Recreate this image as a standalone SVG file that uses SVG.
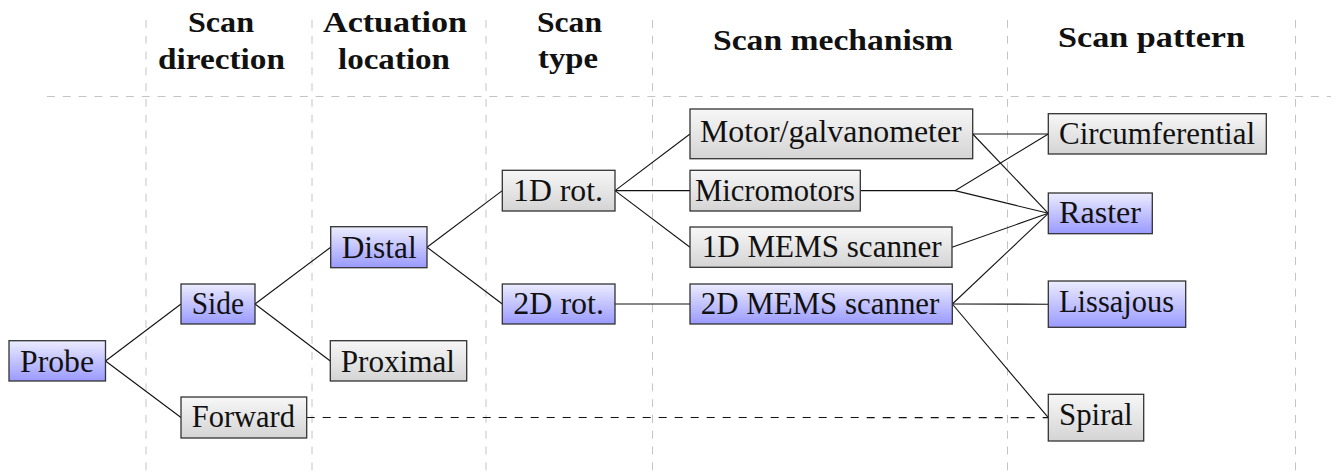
<svg xmlns="http://www.w3.org/2000/svg" width="1337" height="472" viewBox="0 0 1337 472">
  <defs>
    <linearGradient id="gBlue" x1="0" y1="0" x2="0" y2="1">
      <stop offset="0" stop-color="#ececff"/>
      <stop offset="1" stop-color="#9a9aff"/>
    </linearGradient>
    <linearGradient id="gGray" x1="0" y1="0" x2="0" y2="1">
      <stop offset="0" stop-color="#f7f7f7"/>
      <stop offset="1" stop-color="#d4d4d4"/>
    </linearGradient>
    <style>
      .grid { stroke: #c4c4c4; stroke-width: 1; stroke-dasharray: 7.9 7.9; fill: none; }
      .hdr { font-family: "Liberation Serif", "Times New Roman", serif; font-weight: bold; font-size: 30px; fill: #111; }
      .lbl { font-family: "Liberation Serif", "Times New Roman", serif; font-size: 31px; fill: #111; }
      .blue rect { fill: url(#gBlue); stroke: #333; stroke-width: 1.3; }
      .gray rect { fill: url(#gGray); stroke: #333; stroke-width: 1.3; }
      .edge { stroke: #111; stroke-width: 1.1; fill: none; }
      .dash { stroke-dasharray: 8 8; }
    </style>
  </defs>

  <!-- column grid -->
  <g id="grid">
    <line class="grid" x1="146" y1="20" x2="146" y2="472"/>
    <line class="grid" x1="312" y1="20" x2="312" y2="472"/>
    <line class="grid" x1="486" y1="20" x2="486" y2="472"/>
    <line class="grid" x1="652.5" y1="20" x2="652.5" y2="472"/>
    <line class="grid" x1="1007.5" y1="20" x2="1007.5" y2="472"/>
    <line class="grid" x1="1295.5" y1="20" x2="1295.5" y2="472"/>
    <line class="grid" x1="47" y1="96.5" x2="1331" y2="96.5"/>
  </g>

  <!-- column headings -->
  <g id="headers">
    <text class="hdr" x="188" y="31.7" textLength="66" lengthAdjust="spacingAndGlyphs">Scan</text>
    <text class="hdr" x="158" y="69" textLength="127" lengthAdjust="spacingAndGlyphs">direction</text>
    <text class="hdr" x="323" y="31.7" textLength="144" lengthAdjust="spacingAndGlyphs">Actuation</text>
    <text class="hdr" x="338" y="69" textLength="112" lengthAdjust="spacingAndGlyphs">location</text>
    <text class="hdr" x="537" y="31.7" textLength="65" lengthAdjust="spacingAndGlyphs">Scan</text>
    <text class="hdr" x="538" y="68" textLength="60" lengthAdjust="spacingAndGlyphs">type</text>
    <text class="hdr" x="713" y="50" textLength="240" lengthAdjust="spacingAndGlyphs">Scan mechanism</text>
    <text class="hdr" x="1058" y="47" textLength="187" lengthAdjust="spacingAndGlyphs">Scan pattern</text>
  </g>

  <!-- connectors -->
  <g id="connectors">
    <line class="edge" x1="105.5" y1="361" x2="181" y2="304"/>
    <line class="edge" x1="105.5" y1="361" x2="181" y2="417.5"/>
    <line class="edge" x1="255" y1="304" x2="330.7" y2="247.2"/>
    <line class="edge" x1="255" y1="304" x2="330.3" y2="361"/>
    <line class="edge" x1="427" y1="247.2" x2="502.3" y2="190.6"/>
    <line class="edge" x1="427" y1="247.2" x2="502.3" y2="304"/>
    <line class="edge" x1="615" y1="190.6" x2="690" y2="134"/>
    <line class="edge" x1="615" y1="190.6" x2="690" y2="190.6"/>
    <line class="edge" x1="615" y1="190.6" x2="690" y2="247.2"/>
    <line class="edge" x1="615" y1="304" x2="690" y2="304"/>
    <line class="edge" x1="972.7" y1="134" x2="1048.3" y2="134"/>
    <line class="edge" x1="972.7" y1="134" x2="1048.3" y2="213.3"/>
    <polyline class="edge" points="860.3,190.6 955,190.6 1048.3,134"/>
    <line class="edge" x1="955" y1="190.6" x2="1048.3" y2="213.3"/>
    <line class="edge" x1="952" y1="247.2" x2="1048.3" y2="213.3"/>
    <line class="edge" x1="952.3" y1="304" x2="1048.3" y2="213.3"/>
    <line class="edge" x1="952.3" y1="304" x2="1048.3" y2="304.2"/>
    <line class="edge" x1="952.3" y1="304" x2="1048.3" y2="417.7"/>
    <line class="edge dash" x1="306.7" y1="417.5" x2="1048.3" y2="417.6"/>
  </g>

  <!-- nodes -->
  <g id="probe" class="blue">
    <rect x="9" y="340.7" width="96.5" height="40.3"/>
    <text class="lbl" x="20" y="371.5" textLength="74" lengthAdjust="spacingAndGlyphs">Probe</text>
  </g>
  <g id="side" class="blue">
    <rect x="181" y="284" width="74" height="40"/>
    <text class="lbl" x="191.7" y="314.4" textLength="52.3" lengthAdjust="spacingAndGlyphs">Side</text>
  </g>
  <g id="forward" class="gray">
    <rect x="181" y="397" width="125.7" height="41"/>
    <text class="lbl" x="191.7" y="427.4" textLength="103.3" lengthAdjust="spacingAndGlyphs">Forward</text>
  </g>
  <g id="distal" class="blue">
    <rect x="330.7" y="226.7" width="96.3" height="41"/>
    <text class="lbl" x="341.7" y="258.2" textLength="75" lengthAdjust="spacingAndGlyphs">Distal</text>
  </g>
  <g id="proximal" class="gray">
    <rect x="330.3" y="340.7" width="136.4" height="40.3"/>
    <text class="lbl" x="340.7" y="371.5" textLength="114.3" lengthAdjust="spacingAndGlyphs">Proximal</text>
  </g>
  <g id="rot1d" class="gray">
    <rect x="502.3" y="170.3" width="112.7" height="40.7"/>
    <text class="lbl" x="513" y="201" textLength="90" lengthAdjust="spacingAndGlyphs">1D rot.</text>
  </g>
  <g id="rot2d" class="blue">
    <rect x="502.3" y="284" width="112.7" height="40"/>
    <text class="lbl" x="513.3" y="314.2" textLength="90.7" lengthAdjust="spacingAndGlyphs">2D rot.</text>
  </g>
  <g id="motor" class="gray">
    <rect x="690" y="109" width="282.7" height="49.7"/>
    <text class="lbl" x="700" y="141.7" textLength="261.7" lengthAdjust="spacingAndGlyphs">Motor/galvanometer</text>
  </g>
  <g id="micromotors" class="gray">
    <rect x="690" y="170.3" width="170.3" height="40.7"/>
    <text class="lbl" x="695" y="201" textLength="160" lengthAdjust="spacingAndGlyphs">Micromotors</text>
  </g>
  <g id="mems1d" class="gray">
    <rect x="690" y="227" width="262" height="40.3"/>
    <text class="lbl" x="701.7" y="257" textLength="240" lengthAdjust="spacingAndGlyphs">1D MEMS scanner</text>
  </g>
  <g id="mems2d" class="blue">
    <rect x="690" y="284" width="262.3" height="40"/>
    <text class="lbl" x="700.7" y="314.3" textLength="238.7" lengthAdjust="spacingAndGlyphs">2D MEMS scanner</text>
  </g>
  <g id="circumferential" class="gray">
    <rect x="1048.3" y="113.7" width="218" height="40.3"/>
    <text class="lbl" x="1059" y="144.3" textLength="196" lengthAdjust="spacingAndGlyphs">Circumferential</text>
  </g>
  <g id="raster" class="blue">
    <rect x="1048.3" y="193" width="104" height="40.7"/>
    <text class="lbl" x="1059" y="223.4" textLength="82" lengthAdjust="spacingAndGlyphs">Raster</text>
  </g>
  <g id="lissajous" class="blue">
    <rect x="1048.3" y="281" width="137.4" height="46.3"/>
    <text class="lbl" x="1059" y="312.3" textLength="115" lengthAdjust="spacingAndGlyphs">Lissajous</text>
  </g>
  <g id="spiral" class="gray">
    <rect x="1048.3" y="394.3" width="95.4" height="46.7"/>
    <text class="lbl" x="1059" y="425" textLength="73.7" lengthAdjust="spacingAndGlyphs">Spiral</text>
  </g>
</svg>
